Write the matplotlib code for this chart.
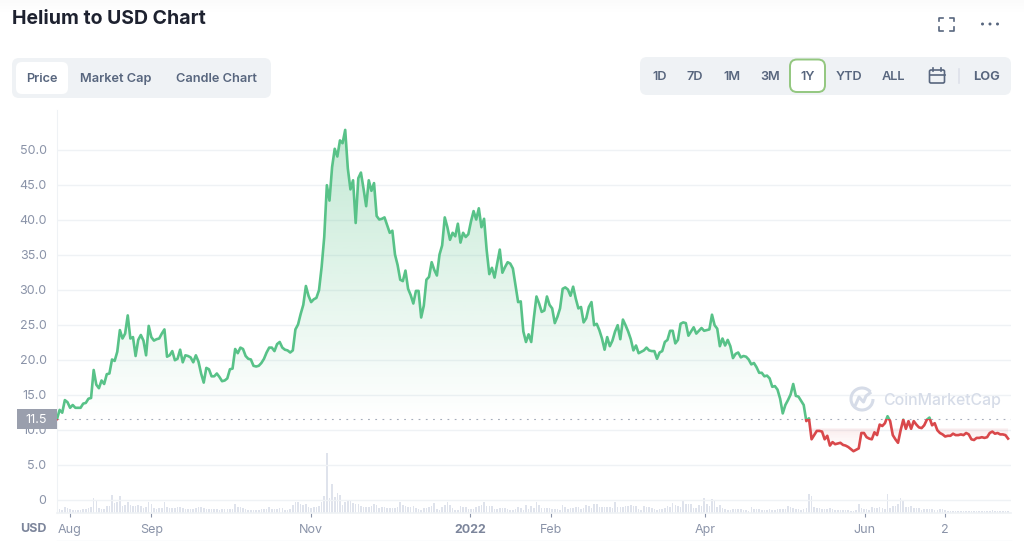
import numpy as np
import matplotlib
matplotlib.use('Agg')
from matplotlib import pyplot as plt
from matplotlib.patches import FancyBboxPatch, Polygon, Rectangle, Arc, Circle

plt.rcParams['font.family'] = ['Inter', 'DejaVu Sans']

# daily price
price = [
    11.5, 12.8, 12.4, 14.2, 13.9, 13.1, 13.5, 13.1, 13.1, 13.1,
    13.7, 13.8, 14.4, 14.5, 18.5, 16.4, 15.9, 17.0, 16.5, 17.9,
    18.0, 20.0, 19.8, 21.1, 24.2, 23.0, 23.7, 26.3, 23.0, 23.2,
    20.5, 22.8, 23.5, 22.7, 20.6, 24.8, 23.2, 22.7, 22.9, 23.0,
    23.7, 24.3, 20.4, 20.6, 21.2, 19.9, 20.1, 21.4, 19.6, 20.6,
    20.5, 20.3, 19.6, 20.6, 19.7, 18.0, 16.7, 18.8, 18.6, 17.6,
    17.6, 18.0, 17.5, 16.9, 17.0, 17.3, 18.6, 18.7, 21.5, 20.9,
    21.7, 21.5, 20.5, 20.1, 20.0, 19.1, 19.0, 19.1, 19.5, 20.1,
    21.0, 21.7, 21.7, 21.2, 22.2, 22.5, 21.7, 21.4, 21.3, 21.0,
    21.3, 24.3, 25.0, 26.5, 27.8, 30.5, 29.1, 28.2, 28.6, 28.8,
    29.9, 33.2, 37.5, 44.9, 42.7, 47.5, 50.1, 49.0, 51.3, 50.9,
    52.8, 47.3, 44.3, 45.6, 39.5, 45.9, 46.7, 44.4, 41.9, 45.6,
    44.1, 45.2, 40.5, 40.0, 40.1, 40.3, 39.2, 38.1, 38.4, 35.0,
    33.5, 31.4, 31.2, 32.7, 30.1, 29.2, 28.0, 29.8, 29.8, 26.0,
    27.7, 31.4, 31.8, 33.9, 32.8, 32.0, 35.0, 36.3, 40.3, 38.9,
    37.1, 38.1, 37.6, 39.4, 36.7, 38.1, 37.5, 37.9, 39.7, 41.2,
    40.0, 41.6, 38.9, 40.1, 35.6, 32.2, 33.1, 31.7, 33.7, 35.7,
    32.4, 33.2, 33.9, 33.7, 33.0, 30.6, 28.2, 28.3, 24.0, 22.5,
    23.6, 22.5, 25.9, 29.0, 28.0, 26.8, 27.0, 29.0, 27.8, 27.3,
    25.2, 26.1, 27.3, 30.1, 30.3, 30.0, 29.1, 30.4, 28.7, 27.3,
    27.5, 25.3, 25.9, 27.5, 28.2, 24.9, 25.1, 24.2, 23.0, 21.4,
    23.2, 21.9, 22.7, 24.0, 24.9, 22.9, 25.7, 24.9, 24.0, 22.9,
    21.3, 22.0, 20.9, 21.1, 21.3, 21.7, 21.3, 21.2, 21.2, 20.1,
    21.0, 21.2, 22.5, 22.8, 24.1, 24.1, 22.3, 22.8, 25.1, 25.3,
    25.2, 23.4, 24.0, 24.6, 23.7, 24.1, 24.5, 24.1, 24.2, 24.3,
    26.4, 24.9, 24.4, 21.9, 23.0, 22.0, 22.8, 21.9, 20.2, 20.8,
    21.0, 20.3, 20.5, 20.4, 20.0, 19.3, 19.5, 18.9, 18.1, 18.1,
    17.6, 17.7, 17.3, 16.1, 16.2, 15.7, 14.4, 12.3, 13.5, 14.2,
    15.0, 16.5, 14.8, 14.7, 14.1, 13.5, 11.2, 11.6, 8.6, 9.2,
    9.8, 9.8, 9.7, 8.6, 9.1, 7.7, 8.2, 7.9, 8.0, 8.1,
    7.8, 7.7, 7.5, 7.2, 6.9, 7.1, 7.3, 9.5, 9.5, 8.9,
    8.7, 8.6, 9.6, 9.2, 10.7, 10.5, 10.9, 11.9, 11.2, 9.2,
    8.6, 8.1, 9.9, 11.4, 10.1, 11.2, 10.1, 11.2, 10.7, 10.3,
    10.2, 10.6, 11.4, 11.7, 10.6, 10.9, 9.9, 9.5, 9.3, 9.0,
    9.1, 9.1, 9.4, 9.2, 9.2, 9.3, 9.2, 9.5, 9.3, 8.6,
    8.5, 8.8, 8.8, 8.9, 8.8, 8.9, 9.5, 9.7, 9.4, 9.5,
    9.3, 9.3, 9.2, 8.7,
]

# daily volume, no scale in the picture so this is bar height as read
volume = [
    3, 4, 3, 5.5, 5, 3.5, 3, 3, 2.5, 3,
    3.5, 3.5, 5, 5.5, 14.5, 12, 5, 4, 4, 7,
    7, 17.5, 10, 11, 17, 7, 8, 11, 8, 7,
    7, 7.5, 7, 4.5, 6, 11, 9, 5, 4, 4.5,
    5, 10.5, 6, 5, 4.5, 4.5, 5.5, 5.5, 4.5, 3.5,
    4, 4, 3.5, 4.5, 5.5, 6, 4.5, 4, 4, 4,
    3.5, 3.5, 3, 3.5, 4, 4, 3.5, 4, 9, 6,
    5.5, 5, 4, 3, 3, 3, 3, 3, 4, 3.5,
    3.5, 5.5, 4, 3.5, 4, 4.5, 4.5, 3, 3, 3.5,
    8, 11, 11, 9, 8, 9, 5.5, 5, 5.5, 6,
    7, 11, 17, 60, 15, 29, 15.5, 20, 17.5, 8,
    11, 12.5, 13, 9.5, 8.5, 8.5, 7, 5.5, 5.5, 6,
    7, 9, 8, 4.5, 6, 6, 5, 5, 4.5, 4.5,
    5.5, 10.5, 7.5, 7, 6, 6, 7, 5, 3.5, 2.5,
    5, 4.5, 6, 7, 9.5, 3.5, 3, 6, 8, 10.5,
    8, 5, 3, 3, 6.5, 6, 5.5, 4, 4, 4,
    5.5, 6.5, 8, 11, 7, 7, 6.5, 4, 4, 4.5,
    5, 5, 3.5, 3, 3, 3.5, 5.5, 4.5, 2.5, 7.5,
    4, 6.5, 5, 10.5, 8, 5, 4.5, 4.5, 4.5, 4,
    4, 3.5, 3, 7.5, 5.5, 4, 5, 5, 6, 6,
    4, 4.5, 8, 6.5, 5, 8.5, 8.5, 5.5, 5.5, 5.5,
    5.5, 5.5, 4.5, 10.5, 6, 5.5, 5.5, 6.5, 7, 7.5,
    7, 6.5, 4, 3, 6.5, 5.5, 5.5, 5, 4, 3,
    3.5, 4, 4.5, 7, 6, 9.5, 7.5, 6.5, 6, 13,
    8.5, 9, 9, 4.5, 5, 7.5, 7, 15, 9, 7,
    14, 13, 5.5, 7.5, 4.5, 4, 3, 3, 4, 4,
    4, 3.5, 2.5, 2.5, 2, 5.5, 3.5, 4, 4, 3,
    3, 3, 3.5, 3, 3, 3.5, 3.5, 4, 4, 7,
    5.5, 5, 4, 3.5, 3, 4, 5, 19, 17, 6,
    5, 4.5, 4, 3.5, 4, 4.5, 3.5, 3, 3, 3,
    3, 3, 3, 2, 2, 3, 9, 5, 4, 3.5,
    3, 5.5, 4.5, 5, 6, 5, 3.5, 18.5, 5, 6.5,
    7, 8.5, 15, 12.5, 6, 6, 7, 5, 4.5, 4.5,
    3, 3.5, 4, 4, 3.5, 3, 2.5, 3.5, 4, 3,
    2, 1.5, 1.5, 1.5, 1.5, 1.5, 1.5, 1.5, 1.5, 1.5,
    1.5, 1.5, 1.5, 1.5, 1.5, 2, 2, 3, 2, 1.5,
    1.5, 1.5, 1.5, 1.5,
]

baseline = 11.5
y_ticks = [0, 5, 10, 15, 20, 25, 30, 35, 40, 45, 50]
y_labels = ['0', '5.0', '10.0', '15.0', '20.0', '25.0', '30.0', '35.0', '40.0', '45.0', '50.0']
x_ticks = [5, 36, 97, 157.6, 188.7, 247.5, 308.3, 339]
x_labels = ['Aug', 'Sep', 'Nov', '2022', 'Feb', 'Apr', 'Jun', '2']
tabs = ['Price', 'Market Cap', 'Candle Chart']
ranges = ['1D', '7D', '1M', '3M', '1Y', 'YTD', 'ALL']

W, H = 1024, 541
GREEN = '#58C288'
RED = '#D9484B'
GRID = '#EFF2F5'
TICK = '#8A93A8'
UI_TEXT = '#58667E'

fig = plt.figure(figsize=(W / 100, H / 100), dpi=100, facecolor='white')
ax = fig.add_axes([57 / W, (H - 512.5) / H, (1011 - 57) / W, (512.5 - 110) / H])
ax.set_zorder(2)
days = np.arange(len(price))
p = np.array(price)
x_max = (1011 - 57) / 2.62
y_lim = ((499.5 - 512.5) / 7, (499.5 - 110) / 7)

ax.grid(axis='y', color=GRID, lw=1)
ax.set_axisbelow(True)

# gradients under the line, clipped to the area between line and baseline
green_grad = np.zeros((256, 1, 4))
green_grad[..., :3] = matplotlib.colors.to_rgb(GREEN)
green_grad[..., 3] = np.linspace(0.36, 0, 256)[:, None]
area = Polygon(list(zip(days, np.maximum(p, baseline))) + [(days[-1], baseline), (0, baseline)],
               transform=ax.transData)
im = ax.imshow(green_grad, extent=[0, x_max, baseline, p.max()], origin='upper',
               aspect='auto', zorder=1.5)
im.set_clip_path(area)

red_grad = np.zeros((256, 1, 4))
red_grad[..., :3] = matplotlib.colors.to_rgb(RED)
red_grad[..., 3] = np.interp(np.linspace(baseline, 6.9, 256), [6.9, 8.5, 10.0, 10.1, 11.5], [0, 0.04, 0.1, 0, 0])[:, None]
area_red = Polygon(list(zip(days, np.minimum(p, baseline))) + [(days[-1], baseline), (0, baseline)],
                   transform=ax.transData)
im2 = ax.imshow(red_grad, extent=[0, x_max, 6.9, baseline], origin='upper',
                aspect='auto', zorder=1.5)
im2.set_clip_path(area_red)

ax.axhline(baseline, color='#A6ADBB', lw=0.8, linestyle=(0, (1.6, 4.9)), zorder=1.8)

ln, = ax.plot(days, p, color=GREEN, lw=1.9, solid_joinstyle='round', zorder=3)
ln.set_clip_path(Rectangle((-5, baseline), x_max + 10, 60, transform=ax.transData))
ln2, = ax.plot(days, p, color=RED, lw=1.9, solid_joinstyle='round', zorder=3)
ln2.set_clip_path(Rectangle((-5, -5), x_max + 10, baseline + 5, transform=ax.transData))

ax.set_xlim(0, x_max)
ax.set_ylim(*y_lim)
ax.set_yticks(y_ticks)
ax.set_yticklabels(y_labels, fontsize=9, color=TICK)
ax.set_xticks(x_ticks)
ax.set_xticklabels(x_labels, fontsize=9, color=TICK)
ax.get_xticklabels()[3].set_fontweight('bold')
ax.get_xticklabels()[3].set_color('#7C859B')
ax.tick_params(axis='y', length=0, pad=7.5)
ax.tick_params(axis='x', length=3, width=0.8, color=TICK, pad=5.5)
for s in ['top', 'right']:
    ax.spines[s].set_visible(False)
ax.spines['left'].set_color(GRID)
ax.spines['bottom'].set_color(GRID)
ax.spines['bottom'].set_linewidth(1.2)
ax.patch.set_alpha(0)

# volume bars share the x axis
ax2 = ax.twinx()
ax2.set_zorder(1)
ax2.bar(days, volume, width=0.6, color='#DFE3EC')
ax2.set_ylim(0, 512.5 - 110)
ax2.axis('off')

# page furniture drawn in pixel coords
ui = fig.add_axes([0, 0, 1, 1], zorder=5)
ui.set_xlim(0, W)
ui.set_ylim(H, 0)
ui.axis('off')


def box(x0, y0, x1, y1, r, fc, ec='none', lw=0):
    ui.add_patch(FancyBboxPatch((x0 + r, y0 + r), x1 - x0 - 2 * r, y1 - y0 - 2 * r,
                                boxstyle='round,pad=%s' % r, fc=fc, ec=ec, lw=lw))


top_fade = np.linspace(0.035, 0, 14)[:, None]
ui.imshow(top_fade, extent=[0, W, 14, 0], cmap='Greys', vmin=0, vmax=1, aspect='auto')
ui.set_xlim(0, W)
ui.set_ylim(H, 0)

ui.text(12, 19, 'Helium to USD Chart', fontsize=14, fontweight='bold', color='#1E2230', va='center')

box(12, 58, 271, 98, 7, GRID)
box(16, 62, 68, 94, 6, 'white')
for t, cx in zip(tabs, [41.5, 116, 216]):
    ui.text(cx, 79, t, fontsize=9.2, fontweight='semibold', color=UI_TEXT, ha='center', va='center')

box(640, 57, 1011, 95, 7, GRID)
box(790, 59.5, 825, 92, 7, 'white', '#93C77F', 1.4)
for t, cx in zip(ranges, [660, 695, 732.5, 770.5, 807.5, 848.5, 893.5]):
    ui.text(cx, 77.5, t, fontsize=9.2, fontweight='semibold', color=UI_TEXT, ha='center', va='center')
ui.text(986, 77, 'LOG', fontsize=9.2, fontweight='bold', color=UI_TEXT, ha='center', va='center')
ui.plot([958.5, 958.5], [69, 83], color='#DDE1EA', lw=1.2)

# calendar icon
box(929.5, 70, 944.5, 83, 1.5, 'none', UI_TEXT, 1.2)
ui.plot([929.5, 944.5], [74.5, 74.5], color=UI_TEXT, lw=1.2)
ui.plot([933, 933], [68, 71], color=UI_TEXT, lw=1.2)
ui.plot([941, 941], [68, 71], color=UI_TEXT, lw=1.2)

# fullscreen icon
for xs, ys in [([939, 939, 943], [21, 17.5, 17.5]), ([950, 954, 954], [17.5, 17.5, 21]),
               ([939, 939, 943], [27, 30.5, 30.5]), ([950, 954, 954], [30.5, 30.5, 27])]:
    ui.plot(xs, ys, color=UI_TEXT, lw=1.2)
# more icon
for cx in [982.5, 990, 997.5]:
    ui.add_patch(Circle((cx, 24), 1.5, fc=UI_TEXT, ec='none'))

# current price tag
ui.add_patch(Rectangle((17, 409), 40, 19.5, fc='#9A9FAD', ec='none'))
ui.text(36, 420, '11.5', fontsize=9, color='white', ha='center', va='center')
ui.text(47, 528.5, 'USD', fontsize=9, fontweight='bold', color='#7C859B', ha='right', va='center')
ui.plot([57, 1011], [540.5, 540.5], color=GRID, lw=1)

# watermark
WM = '#D6DCE8'
ui.add_patch(Arc((862, 399), 22, 22, theta1=0, theta2=320, color=WM, lw=2.2))
ui.plot([855, 859, 863.5, 866, 870], [406, 397, 402, 396, 393], color=WM, lw=2.2)
ui.text(883, 400.5, 'CoinMarketCap', fontsize=11.4, fontweight='medium', color=WM, va='center')

fig.savefig('out.png', dpi=100)
